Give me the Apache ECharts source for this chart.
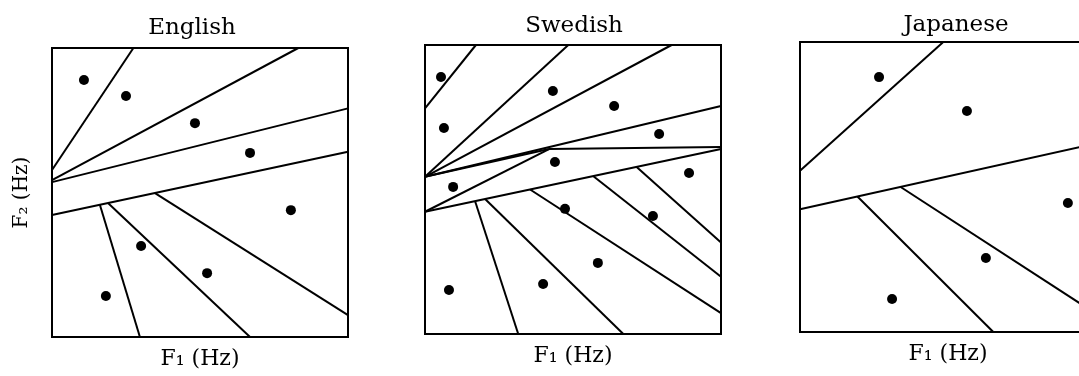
<!DOCTYPE html>
<html>
<head>
<meta charset="utf-8">
<script src="https://cdn.jsdelivr.net/npm/echarts@6/dist/echarts.min.js"></script>
<style>
  html, body { margin: 0; padding: 0; background: #fff; }
  #container { width: 1079px; height: 376px; }
</style>
</head>
<body>
<div id="container"></div>
<script>
// F1 / F2 plane of each language, both axes 0..100 (F2 grows upward)
var panelNames = ['English', 'Swedish', 'Japanese'];
var xAxisName = 'F₁ (Hz)';
var yAxisName = 'F₂ (Hz)';

// vowel points [F1, F2]
var englishDots = [[10.8, 88.9], [25.0, 83.4], [48.3, 74.0], [66.9, 63.7], [80.7, 43.9],
                   [30.1, 31.5], [52.4, 22.1], [18.2, 14.2]];
var swedishDots = [[5.4, 88.9], [6.4, 71.3], [43.2, 84.1], [63.9, 78.9], [79.1, 69.2],
                   [43.9, 59.5], [9.5, 50.9], [89.2, 55.7], [47.3, 43.3], [77.0, 40.8],
                   [58.4, 24.6], [39.9, 17.3], [8.1, 15.2]];
var japaneseDots = [[26.7, 87.9], [56.4, 76.2], [90.5, 44.5], [62.8, 25.5], [31.1, 11.4]];

// category boundaries [x1, y1, x2, y2]
var englishEdges = [
    [27.5, 100, 0, 57.8],
    [83.2, 100, 0, 54.3],
    [100, 79.1, 0, 53.6],
    [100, 64.1, 0, 42.2],
    [16.2, 45.7, 29.7, 0],
    [19.0, 46.3, 66.9, 0],
    [34.8, 49.8, 100, 7.6]
];
var swedishEdges = [
    [17.2, 100, 0, 78.1],
    [48.4, 100, 0, 54.4],
    [83.3, 100, 0, 54.4],
    [100, 78.9, 0, 54.4],
    [0, 54.4, 41.9, 64.0],
    [0, 42.3, 41.9, 64.0],
    [41.9, 64.0, 100, 64.7],
    [0, 42.3, 100, 64.0],
    [16.9, 46.0, 31.5, 0],
    [20.3, 46.7, 67.0, 0],
    [35.5, 50.0, 100, 7.2],
    [56.9, 54.6, 100, 19.8],
    [71.5, 57.8, 100, 31.7]
];
var japaneseEdges = [
    [48.4, 100, 0, 55.6],
    [0, 42.3, 100, 65.0],
    [19.4, 46.7, 65.3, 0],
    [34.0, 50.0, 100, 6.3]
];

var dots = [englishDots, swedishDots, japaneseDots];
var edges = [englishEdges, swedishEdges, japaneseEdges];

var font = 'DejaVu Serif';
var grids = [
    { left: 52, top: 48, width: 296, height: 289 },
    { left: 425, top: 45, width: 296, height: 289 },
    { left: 800, top: 42, width: 296, height: 290 }   // runs past the right edge
];
var titlePos = [[192, 28], [574, 26], [956, 25]];

var dom = document.getElementById('container');
var myChart = echarts.init(dom);

var option = {
    backgroundColor: '#fff',
    animation: false,
    grid: grids.map(function (g) {
        return {
            left: g.left, top: g.top, width: g.width, height: g.height,
            outerBoundsMode: 'none', containLabel: false,
            show: true, borderColor: '#000', borderWidth: 2,
            backgroundColor: 'transparent'
        };
    }),
    xAxis: grids.map(function (g, i) {
        return {
            type: 'value', gridIndex: i, min: 0, max: 100,
            axisLine: { show: false }, axisTick: { show: false },
            axisLabel: { show: false }, splitLine: { show: false },
            name: xAxisName, nameLocation: 'middle', nameGap: 11,
            nameTextStyle: { fontFamily: font, fontSize: 22, color: '#000' }
        };
    }),
    yAxis: grids.map(function (g, i) {
        return {
            type: 'value', gridIndex: i, min: 0, max: 100,
            axisLine: { show: false }, axisTick: { show: false },
            axisLabel: { show: false }, splitLine: { show: false },
            name: i === 0 ? yAxisName : '', nameLocation: 'middle', nameGap: 20,
            nameTextStyle: { fontFamily: font, fontSize: 20, color: '#000' }
        };
    }),
    graphic: panelNames.map(function (n, i) {
        return {
            type: 'text', x: titlePos[i][0], y: titlePos[i][1],
            style: {
                text: n, fill: '#000', font: '23px "' + font + '"',
                textAlign: 'center', textVerticalAlign: 'middle'
            }
        };
    }),
    series: []
};

for (var i = 0; i < 3; i++) {
    option.series.push({
        type: 'lines',
        coordinateSystem: 'cartesian2d',
        xAxisIndex: i, yAxisIndex: i,
        silent: true,
        lineStyle: { color: '#000', width: 2, opacity: 1 },
        data: edges[i].map(function (e) {
            return { coords: [[e[0], e[1]], [e[2], e[3]]] };
        })
    });
    option.series.push({
        type: 'scatter',
        xAxisIndex: i, yAxisIndex: i,
        symbol: 'circle', symbolSize: 10,
        itemStyle: { color: '#000', opacity: 1 },
        silent: true,
        data: dots[i]
    });
}

if (option && typeof option === 'object') {
    myChart.setOption(option, true);
}
</script>
</body>
</html>
